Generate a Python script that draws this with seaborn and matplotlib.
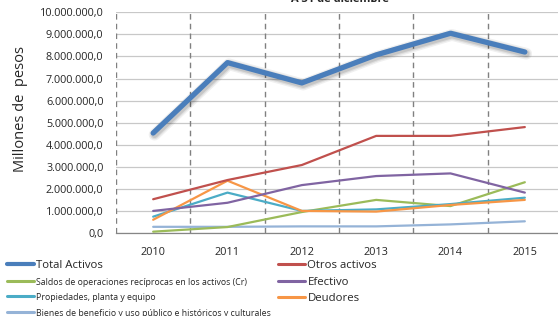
import matplotlib
matplotlib.use("Agg")
import matplotlib.pyplot as plt
import matplotlib.patheffects as pe
from matplotlib.lines import Line2D
import seaborn as sns
import numpy as np
import pandas as pd

years = ["2010", "2011", "2012", "2013", "2014", "2015"]
total_activos = [4530000, 7720000, 6800000, 8070000, 9050000, 8200000]
otros_activos = [1530000, 2400000, 3080000, 4400000, 4400000, 4800000]
saldos = [60000, 270000, 950000, 1500000, 1220000, 2300000]
efectivo = [1000000, 1370000, 2170000, 2580000, 2700000, 1830000]
propiedades = [740000, 1830000, 1000000, 1070000, 1310000, 1600000]
deudores = [600000, 2370000, 1000000, 970000, 1270000, 1500000]
bienes = [280000, 280000, 300000, 300000, 390000, 530000]

series_names = [
    "Total Activos",
    "Saldos de operaciones recíprocas en los activos (Cr)",
    "Propiedades, planta y equipo",
    "Bienes de beneficio y uso público e históricos y culturales",
    "Otros activos",
    "Efectivo",
    "Deudores",
]
series_vals = [total_activos, saldos, propiedades, bienes, otros_activos, efectivo, deudores]
colors = ["#4A7EBB", "#9BBB59", "#4BACC6", "#95B3D7", "#C0504D", "#8064A2", "#F79646"]

sns.set_theme(style="white")
plt.rcParams['font.family'] = ['Open Sans', 'DejaVu Sans']

fig = plt.figure(figsize=(5.58, 3.16), dpi=100)
ax = fig.add_axes([116/558, 1-233/316, (562-116)/558, (233-12.3)/316])

x = np.arange(len(years))
draw_order = [3, 1, 2, 6, 5, 4, 0]
lines = {}
for i in draw_order:
    df = pd.DataFrame({"x": x, "v": series_vals[i]})
    lw = 3.8 if i == 0 else 1.6
    sns.lineplot(data=df, x="x", y="v", ax=ax, color=colors[i], linewidth=lw, zorder=5 if i == 0 else 3)
    ln = ax.get_lines()[-1]
    if i == 0:
        ln.set_path_effects([
            pe.SimpleLineShadow(offset=(1.0, -1.2), shadow_color="black", alpha=0.06, linewidth=8.5),
            pe.SimpleLineShadow(offset=(1.0, -1.2), shadow_color="black", alpha=0.08, linewidth=6.5),
            pe.SimpleLineShadow(offset=(1.0, -1.2), shadow_color="black", alpha=0.10, linewidth=4.8),
            pe.Normal()])
        ln.set_solid_capstyle("round")
    lines[i] = ln

ax.set_xlim(-0.5, 5.5)
ax.set_ylim(0, 10000000)
yt = np.arange(0, 10000001, 1000000)
ax.set_yticks(yt)
ax.set_yticklabels([f"{int(v):,}".replace(",", ".") + ",0" for v in yt], fontsize=7.8)
ax.set_xticks(x)
ax.set_xticklabels(years, fontsize=7.8)
ax.set_xticks(np.arange(-0.5, 5.6, 1), minor=True)
ax.tick_params(axis="x", which="major", length=0, pad=10)
ax.tick_params(axis="x", which="minor", length=4, color="#868686", direction="out")
ax.tick_params(axis="y", length=0, pad=9)
ax.grid(axis="y", color="#C8C8C8", linewidth=0.9)
for b in np.arange(-0.5, 5.6, 1):
    ax.axvline(b, color="#808080", linestyle=(0, (4, 3)), linewidth=1.0, zorder=1)
for s in ["top", "right", "left"]:
    ax.spines[s].set_visible(False)
ax.spines["bottom"].set_color("#868686")
ax.spines["bottom"].set_linewidth(0.9)
ax.set_xlabel("")
ax.set_ylabel("Millones de  pesos", fontsize=10.5)
ax.yaxis.set_label_coords(-0.198, 0.56)

fig.text(340/558, 1.003, "A 31 de diciembre", ha="center", va="center", fontsize=8, fontweight="bold")

hl = [Line2D([0], [0], color=colors[i], linewidth=3.0 if i == 0 else 2.2, solid_capstyle="round") for i in range(7)]
leg = fig.legend(hl, series_names, ncol=2, loc="upper left", bbox_to_anchor=(7/558, 1-260/316),
                 frameon=False, prop={"size": 8.2}, handlelength=2.4, handletextpad=0.18,
                 columnspacing=0.6, labelspacing=0.5, borderaxespad=0, borderpad=0)
sizes = [8.2, 6.3, 6.3, 6.3, 8.2, 8.2, 8.2]
for t, s in zip(leg.get_texts(), sizes):
    t.set_fontsize(s)

fig.savefig("out.png", dpi=100)
